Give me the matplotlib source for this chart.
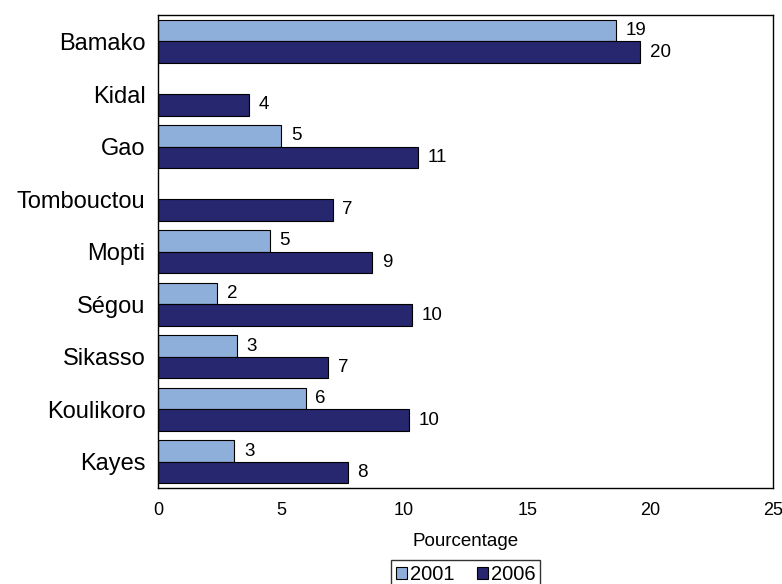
import numpy as np
import matplotlib
matplotlib.use("Agg")
import matplotlib.pyplot as plt

plt.rcParams['font.family'] = ['Liberation Sans', 'DejaVu Sans']

# regions, bottom to top
regions = ["Kayes", "Koulikoro", "Sikasso", "Ségou", "Mopti",
           "Tombouctou", "Gao", "Kidal", "Bamako"]
# percentages (NaN = no 2001 value)
val_2001 = [3.1, 6.0, 3.2, 2.4, 4.55, np.nan, 5.0, np.nan, 18.6]
val_2006 = [7.7, 10.2, 6.9, 10.3, 8.7, 7.1, 10.55, 3.7, 19.6]

col_2001 = "#8DAFD9"
col_2006 = "#26276E"

fig = plt.figure(figsize=(7.82, 5.84), dpi=100)
ax = fig.add_axes([0.202, 0.164, 0.787, 0.810])

y = np.arange(len(regions))
h = 0.41
b1 = ax.barh(y + h / 2, val_2001, height=h, color=col_2001,
             edgecolor="black", linewidth=0.8, label="2001")
b2 = ax.barh(y - h / 2, val_2006, height=h, color=col_2006,
             edgecolor="black", linewidth=0.8, label="2006")

# valeurs au bout des barres
for bars, vals in [(b1, val_2001), (b2, val_2006)]:
    for rect, v in zip(bars, vals):
        if np.isnan(v):
            continue
        ax.annotate("{:.0f}".format(v),
                    (rect.get_width(), rect.get_y() + rect.get_height() / 2),
                    xytext=(7, 0), textcoords="offset points",
                    ha="left", va="center", fontsize=13.5)

ax.set_xlim(0, 25)
ax.set_ylim(-0.5, len(regions) - 0.5)
ax.set_xticks([0, 5, 10, 15, 20, 25])
ax.set_yticks(y)
ax.set_yticklabels(regions, fontsize=17)
ax.tick_params(axis="x", labelsize=13, length=0, pad=10)
ax.tick_params(axis="y", length=0, pad=9)
for s in ax.spines.values():
    s.set_linewidth(1.0)
    s.set_color("black")

ax.set_xlabel("Pourcentage", fontsize=13.5, labelpad=10)

leg = ax.legend(loc="upper center", bbox_to_anchor=(0.5, -0.152), ncol=2,
                fontsize=14.5, frameon=True, fancybox=False, edgecolor="black",
                handlelength=0.55, handleheight=0.55, handletextpad=0.15,
                columnspacing=1.1, borderpad=0.25, borderaxespad=0)
leg.get_frame().set_linewidth(1.0)

fig.savefig("out.png", dpi=100)
